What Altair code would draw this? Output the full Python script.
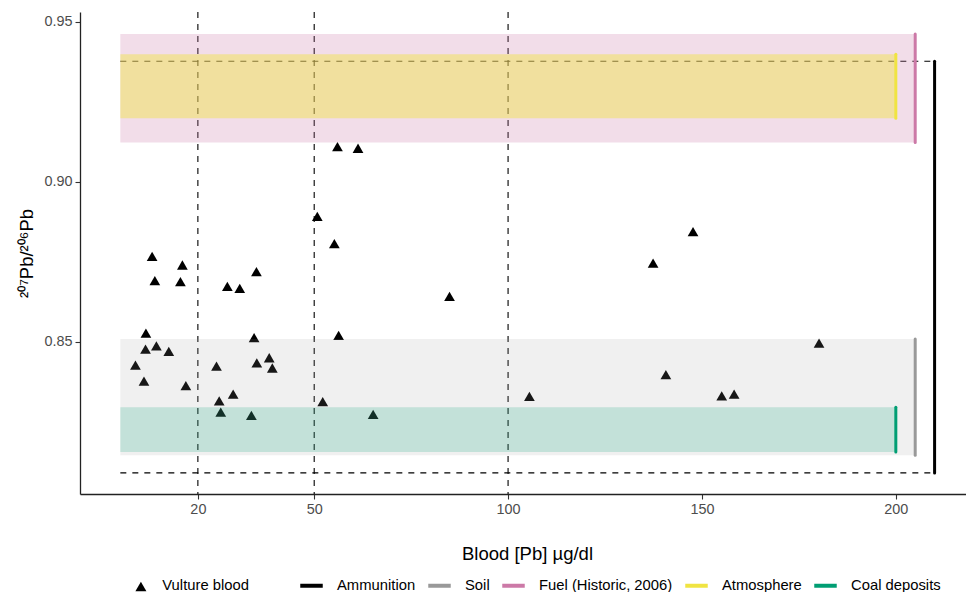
import altair as alt
import pandas as pd

# ---- data ----
blood = [56.0, 61.3, 50.8, 55.2, 8.2, 16.0, 8.9, 15.5, 35.1, 27.6, 30.8, 84.9,
         6.6, 34.5, 56.3, 6.5, 9.3, 12.5, 38.4, 35.2, 39.2, 3.9, 24.8, 6.1,
         16.9, 29.1, 25.5, 52.2, 25.9, 33.8, 65.2, 137.4, 180.2, 140.7, 105.5,
         155.1, 158.3, 147.7]
ratio = [0.9110, 0.9105, 0.8892, 0.8807, 0.8767, 0.8740, 0.8691, 0.8688, 0.8719,
         0.8673, 0.8667, 0.8642, 0.8527, 0.8513, 0.8520, 0.8477, 0.8487, 0.8470,
         0.8450, 0.8434, 0.8418, 0.8427, 0.8424, 0.8377, 0.8363, 0.8336, 0.8315,
         0.8313, 0.8280, 0.8270, 0.8273, 0.8746, 0.8496, 0.8397, 0.8329, 0.8331,
         0.8336, 0.8844]

vline_x = [20, 50, 100]

src_names = ["Ammunition", "Soil", "Fuel (Historic, 2006)", "Atmosphere", "Coal deposits"]
src_colors = ["#000000", "#999999", "#CC79A7", "#F0E442", "#009E73"]
src_x = [210, 205, 205, 200, 200]
src_lo = [0.8090, 0.8145, 0.9123, 0.9199, 0.8155]
src_hi = [0.9377, 0.8509, 0.9462, 0.9399, 0.8295]

band_names = ["Fuel (Historic, 2006)", "Soil", "Atmosphere", "Coal deposits"]
band_x2 = [205, 205, 200, 200]
band_lo = [0.9123, 0.8145, 0.9199, 0.8155]
band_hi = [0.9462, 0.8509, 0.9399, 0.8295]
band_fill = ["#CC79A7", "#999999", "#F0E442", "#009E73"]
band_alpha = [0.25, 0.15, 0.45, 0.19]

ammo_range_y = [0.9377, 0.8090]
ammo_range_x2 = [210, 210]

x_ticks = [20, 50, 100, 150, 200]
y_ticks = [0.85, 0.90, 0.95]

FONT = "Liberation Sans"

pts = pd.DataFrame({"blood": blood, "ratio": ratio, "kind": ["Vulture blood"] * len(blood)})
src = pd.DataFrame({"source": src_names, "x": src_x, "lo": src_lo, "hi": src_hi})
bands = pd.DataFrame({"name": band_names, "x0": [0] * len(band_names), "x2": band_x2,
                      "lo": band_lo, "hi": band_hi, "fill": band_fill, "alpha": band_alpha})
vl = pd.DataFrame({"x": vline_x})
hl = pd.DataFrame({"y": ammo_range_y, "x0": [0, 0], "x2": ammo_range_x2})

xscale = alt.Scale(domain=[-10.4, 218.1], nice=False, zero=False)
yscale = alt.Scale(domain=[0.8024, 0.9531], nice=False, zero=False)

xaxis = alt.Axis(values=x_ticks, grid=False, title="Blood [Pb] µg/dl",
                 titleX=447, titleY=59, titleBaseline="middle")
yaxis = alt.Axis(values=y_ticks, format=".2f", grid=False, title="²⁰⁷Pb/²⁰⁶Pb",
                 titleX=-44, titleY=241)

vdash = alt.Chart(vl).mark_rule(color="black", strokeDash=[6, 6], strokeWidth=1.1).encode(
    x=alt.X("x:Q", scale=xscale, axis=xaxis)
)

hdash = alt.Chart(hl).mark_rule(color="black", strokeDash=[6, 6], strokeWidth=1.1).encode(
    x=alt.X("x0:Q", scale=xscale, axis=xaxis),
    x2="x2:Q",
    y=alt.Y("y:Q", scale=yscale, axis=yaxis),
)

points = alt.Chart(pts).mark_point(filled=True, size=115, opacity=1, color="black").encode(
    x=alt.X("blood:Q", scale=xscale, axis=xaxis),
    y=alt.Y("ratio:Q", scale=yscale, axis=yaxis),
    shape=alt.Shape("kind:N",
                    scale=alt.Scale(domain=["Vulture blood"], range=["triangle-up"]),
                    legend=alt.Legend(orient="none", legendX=53.5, legendY=567,
                                      direction="horizontal", title=None,
                                      symbolSize=121, symbolFillColor="black",
                                      symbolStrokeColor="black", symbolStrokeWidth=0,
                                      labelOffset=14, labelFontSize=14.8,
                                      labelFont=FONT, labelColor="black", padding=0)),
)

band_layer = alt.Chart(bands).mark_rect().encode(
    x=alt.X("x0:Q", scale=xscale, axis=xaxis),
    x2="x2:Q",
    y=alt.Y("lo:Q", scale=yscale, axis=yaxis),
    y2="hi:Q",
    fill=alt.Fill("fill:N", scale=None),
    opacity=alt.Opacity("alpha:Q", scale=None),
)

src_lines = alt.Chart(src).mark_rule(strokeWidth=3, strokeCap="round").encode(
    x=alt.X("x:Q", scale=xscale, axis=xaxis),
    y=alt.Y("lo:Q", scale=yscale, axis=yaxis),
    y2="hi:Q",
    color=alt.Color("source:N",
                    scale=alt.Scale(domain=src_names, range=src_colors),
                    legend=alt.Legend(orient="none", legendX=218, legendY=560,
                                      direction="horizontal", title=None,
                                      symbolType="stroke", symbolSize=506,
                                      symbolStrokeWidth=4, labelOffset=12,
                                      columnPadding=4, labelFontSize=14.8,
                                      labelFont=FONT, labelColor="black", padding=0)),
)

chart = alt.layer(vdash, hdash, points, band_layer, src_lines).properties(
    width=886, height=482,
    padding={"left": 72, "top": 4, "right": 0, "bottom": 98},
    autosize="none",
    background="white",
).configure_view(stroke=None).configure_axis(
    domainColor="#222222", domainWidth=1.3,
    tickColor="#333333", tickWidth=1.1, tickSize=5,
    labelFont=FONT, labelFontSize=14.4, labelColor="#4D4D4D", labelPadding=3,
    titleFont=FONT, titleFontSize=18.5, titleFontWeight="normal", titleColor="black",
)

chart.save("out.html", embed_options={"renderer": "svg", "actions": False})
